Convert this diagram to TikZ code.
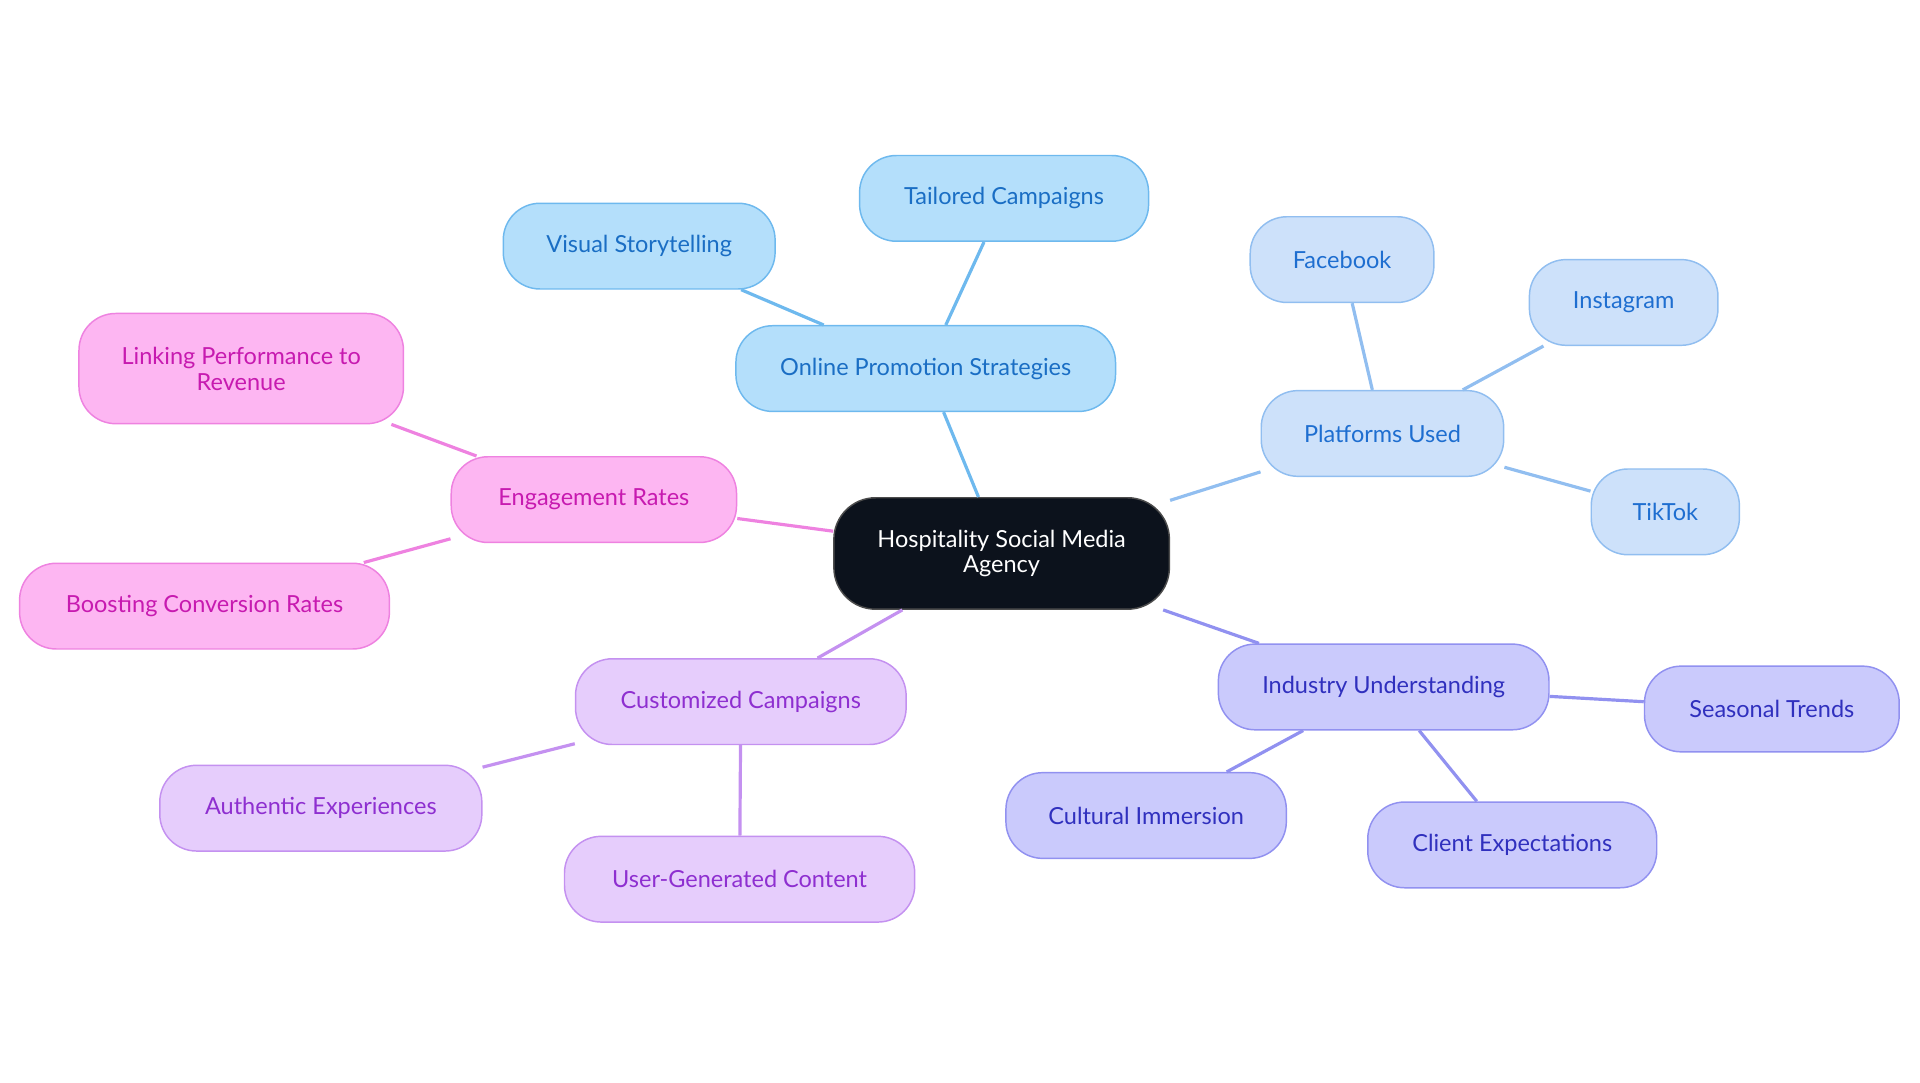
\documentclass[tikz,border=0pt]{standalone}
\usepackage{fontspec}
\setmainfont{Lato}
\begin{document}
\begin{tikzpicture}[x=0.5pt,y=-0.5pt,
 box/.style={draw,line width=0.6pt,rounded corners=15pt,align=center,font=\fontsize{9.6}{10.5}\selectfont,inner sep=0pt,minimum height=35pt},
 cc/.style={box,fill=black!90!blue!80,draw=gray!60!black,text=white,fill={rgb,255:red,12;green,18;blue,28}},
 bl/.style={box,fill={rgb,255:red,180;green,223;blue,251},draw={rgb,255:red,110;green,185;blue,238},text={rgb,255:red,26;green,110;blue,196}},
 pl/.style={box,fill={rgb,255:red,205;green,225;blue,250},draw={rgb,255:red,145;green,190;blue,240},text={rgb,255:red,30;green,110;blue,208}},
 iu/.style={box,fill={rgb,255:red,202;green,202;blue,252},draw={rgb,255:red,145;green,145;blue,240},text={rgb,255:red,48;green,48;blue,190}},
 cu/.style={box,fill={rgb,255:red,230;green,205;blue,252},draw={rgb,255:red,196;green,145;blue,240},text={rgb,255:red,142;green,47;blue,208}},
 en/.style={box,fill={rgb,255:red,253;green,182;blue,242},draw={rgb,255:red,238;green,130;blue,224},text={rgb,255:red,199;green,26;blue,176}},
 e/.style={line width=1.3pt}]
\useasboundingbox (0,0) rectangle (1568,884);
\node[cc,minimum width=137pt,minimum height=45.5pt,rounded corners=17pt] (c) at (818,452) {Hospitality Social Media\\Agency};
\node[bl,minimum width=155pt] (o) at (756,301) {Online Promotion Strategies};
\node[bl,minimum width=118pt] (t) at (820,162) {Tailored Campaigns};
\node[bl,minimum width=111pt] (v) at (522,201) {Visual Storytelling};
\node[pl,minimum width=99pt] (p) at (1129,354) {Platforms Used};
\node[pl,minimum width=75pt] (f) at (1096,212) {Facebook};
\node[pl,minimum width=77pt] (ig) at (1326,247) {Instagram};
\node[pl,minimum width=60.5pt] (tk) at (1360,418) {TikTok};
\node[iu,minimum width=135pt] (i) at (1130,561) {Industry Understanding};
\node[iu,minimum width=104pt] (s) at (1447,579) {Seasonal Trends};
\node[iu,minimum width=114.5pt] (ci) at (936,666) {Cultural Immersion};
\node[iu,minimum width=118pt] (ce) at (1235,690) {Client Expectations};
\node[cu,minimum width=135pt] (cu) at (605,573) {Customized Campaigns};
\node[cu,minimum width=131.5pt] (a) at (262,660) {Authentic Experiences};
\node[cu,minimum width=143pt] (u) at (604,718) {User-Generated Content};
\node[en,minimum width=116.5pt] (en) at (485,408) {Engagement Rates};
\node[en,minimum width=132.5pt,minimum height=45pt] (l) at (197,301) {Linking Performance to\\Revenue};
\node[en,minimum width=151pt] (b) at (167,495) {Boosting Conversion Rates};
\begin{scope}[on background layer/.style={}]
\end{scope}
\begin{pgfinterruptboundingbox}\end{pgfinterruptboundingbox}
\draw[e,draw={rgb,255:red,110;green,185;blue,238}] (c) -- (o) (o) -- (t) (o) -- (v);
\draw[e,draw={rgb,255:red,145;green,190;blue,240}] (c) -- (p) (p) -- (f) (p) -- (ig) (p) -- (tk);
\draw[e,draw={rgb,255:red,145;green,145;blue,240}] (c) -- (i) (i) -- (s) (i) -- (ci) (i) -- (ce);
\draw[e,draw={rgb,255:red,196;green,145;blue,240}] (c) -- (cu) (cu) -- (a) (cu) -- (u);
\draw[e,draw={rgb,255:red,238;green,130;blue,224}] (c) -- (en) (en) -- (l) (en) -- (b);
\end{tikzpicture}
\end{document}
